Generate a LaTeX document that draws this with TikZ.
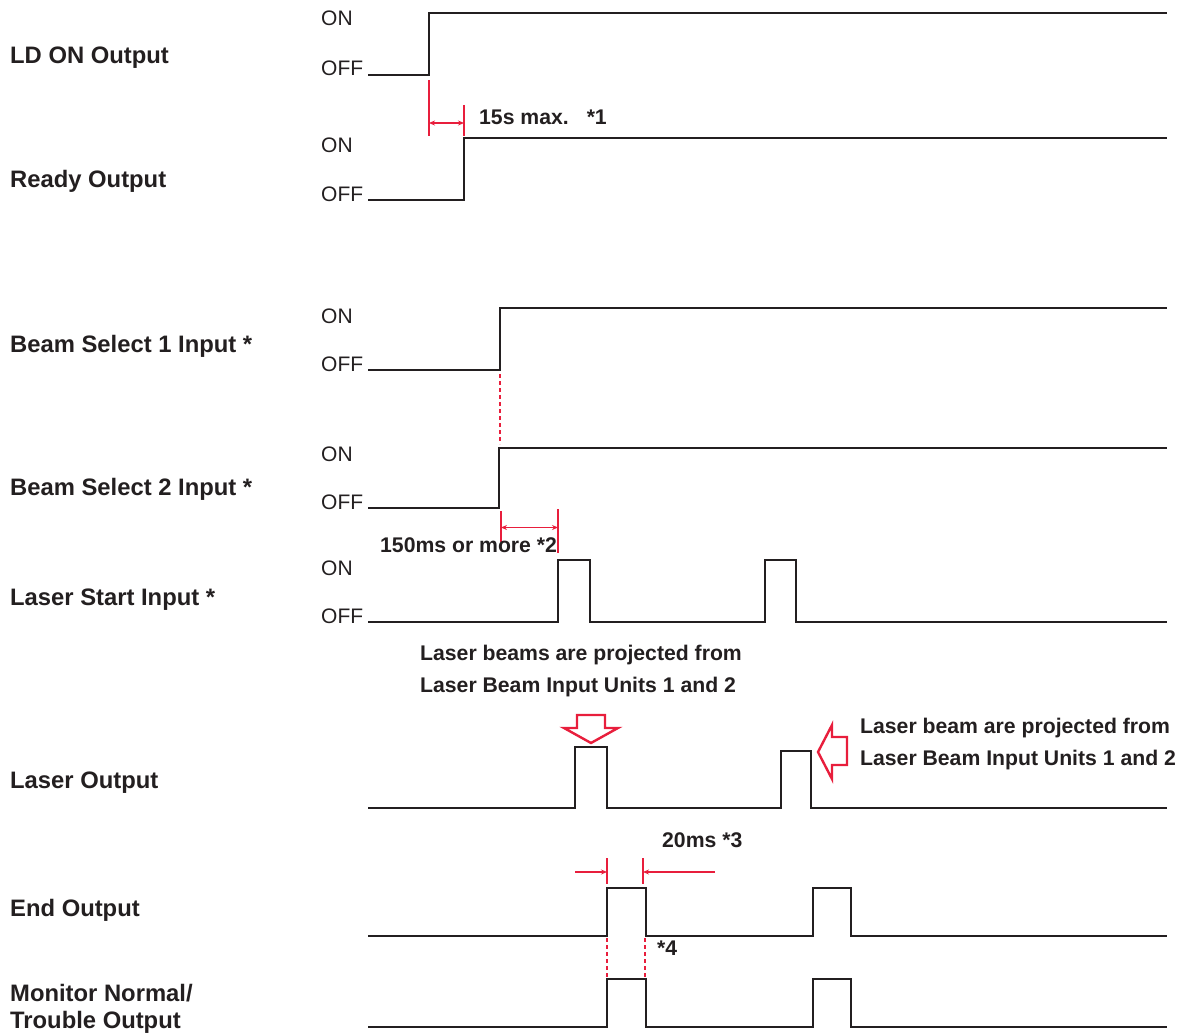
\documentclass[tikz,border=0pt]{standalone}
\usepackage{fontspec}
\setmainfont{Liberation Sans}
\usetikzlibrary{arrows.meta}
\definecolor{ink}{RGB}{35,31,32}
\definecolor{accent}{RGB}{232,30,60}
\begin{document}
\begin{tikzpicture}[x=1pt,y=-1pt,
  sig/.style={line width=2.8pt, draw=ink, line join=miter},
  dimln/.style={line width=1.4pt, draw=accent},
  dimarr/.style={line width=1.4pt, draw=accent, arrows={-Stealth[length=6pt,width=5pt]}},
  dimarrb/.style={line width=1.4pt, draw=accent, arrows={Stealth[length=6pt,width=5pt]-Stealth[length=6pt,width=5pt]}},
  dashln/.style={line width=1.4pt, draw=accent, dash pattern=on 4pt off 3pt},
  bigarr/.style={line width=2.4pt, draw=accent, line join=miter},
  lbl/.style={anchor=base west, inner sep=0pt, text=ink, font=\fontsize{23.8}{28}\selectfont\bfseries},
  lvl/.style={anchor=base west, inner sep=0pt, text=ink, font=\fontsize{21}{25}\selectfont},
  note/.style={anchor=base west, inner sep=0pt, text=ink, font=\fontsize{21.2}{25}\selectfont\bfseries}
]
\useasboundingbox (0,0) rectangle (1179,1033);

% Left labels
\node[lbl] (l1) at (10,64) {LD ON Output};
\node[lbl] (l2) at (10,187) {Ready Output};
\node[lbl] (l3) at (10,352) {Beam Select 1 Input *};
\node[lbl] (l4) at (10,495) {Beam Select 2 Input *};
\node[lbl] (l5) at (10,605) {Laser Start Input *};
\node[lbl] (l6) at (10,788) {Laser Output};
\node[lbl] (l7) at (10,916) {End Output};
\node[lbl] (l8a) at (10,1001) {Monitor Normal/};
\node[lbl] (l8b) at (10,1028) {Trouble Output};

% ON / OFF levels
\node[lvl] (on1) at (321,26) {ON};
\node[lvl] (off1) at (321,76) {OFF};
\node[lvl] (on2) at (321,153) {ON};
\node[lvl] (off2) at (321,201) {OFF};
\node[lvl] (on3) at (321,323) {ON};
\node[lvl] (off3) at (321,371) {OFF};
\node[lvl] (on4) at (321,461) {ON};
\node[lvl] (off4) at (321,509) {OFF};
\node[lvl] (on5) at (321,575) {ON};
\node[lvl] (off5) at (321,623) {OFF};

% Waveforms
\draw[sig] (368,75) -- (429,75) -- (429,13) -- (1167,13);
\draw[sig] (368,200) -- (464,200) -- (464,138) -- (1167,138);
\draw[sig] (368,370) -- (500,370) -- (500,308) -- (1167,308);
\draw[sig] (368,508) -- (499,508) -- (499,448) -- (1167,448);
\draw[sig] (368,622) -- (558,622) -- (558,560) -- (590,560) -- (590,622) -- (765,622) -- (765,560) -- (796,560) -- (796,622) -- (1167,622);
\draw[sig] (368,808) -- (575,808) -- (575,747) -- (607,747) -- (607,808) -- (781,808) -- (781,751) -- (811,751) -- (811,808) -- (1167,808);
\draw[sig] (368,936) -- (607,936) -- (607,888) -- (646,888) -- (646,936) -- (813,936) -- (813,888) -- (851,888) -- (851,936) -- (1167,936);
\draw[sig] (368,1027) -- (607,1027) -- (607,979) -- (646,979) -- (646,1027) -- (813,1027) -- (813,979) -- (851,979) -- (851,1027) -- (1167,1027);

% 15s max dimension
\coordinate (a1t) at (429,80); \coordinate (a1b) at (429,136);
\coordinate (a2t) at (464,105); \coordinate (a2b) at (464,136);
\draw[dimln] (a1t) -- (a1b);
\draw[dimln] (a2t) -- (a2b);
\coordinate (a1m) at (429,123); \coordinate (a2m) at (464,123);
\draw[dimarrb] (a1m) -- (a2m);
\node[note] (t15) at (479,124.5) {15s max.\hspace{18pt}*1};

% Beam select dashed
\coordinate (bs1) at (500,374); \coordinate (bs2) at (500,444);
\draw[dashln] (bs1) -- (bs2);

% 150ms dimension
\coordinate (b1t) at (501,511); \coordinate (b1b) at (501,542);
\coordinate (b2t) at (558,509); \coordinate (b2b) at (558,553);
\draw[dimln] (b1t) -- (b1b);
\draw[dimln] (b2t) -- (b2b);
\coordinate (b1m) at (501,527.5); \coordinate (b2m) at (558,527.5);
\draw[dimarrb] (b1m) -- (b2m);
\node[note] (t150) at (380,552.5) {150ms or more *2};

% Notes
\node[note] (n1a) at (420,660.5) {Laser beams are projected from};
\node[note] (n1b) at (420,692.5) {Laser Beam Input Units 1 and 2};
\node[note] (n2a) at (860,733.5) {Laser beam are projected from};
\node[note] (n2b) at (860,765.5) {Laser Beam Input Units 1 and 2};

% Big outlined arrows
\draw[bigarr] (577,715) -- (605,715) -- (605,728) -- (618,728) -- (591,743) -- (564,728) -- (577,728) -- cycle;
\draw[bigarr] (818,752) -- (832,725) -- (832,737) -- (847,737) -- (847,765) -- (832,765) -- (832,779) -- cycle;

% 20ms dimension
\coordinate (c1t) at (607,858); \coordinate (c1b) at (607,884);
\coordinate (c2t) at (643,858); \coordinate (c2b) at (643,884);
\draw[dimln] (c1t) -- (c1b);
\draw[dimln] (c2t) -- (c2b);
\coordinate (c1o) at (575,872); \coordinate (c1m) at (607,872);
\coordinate (c2o) at (715,872); \coordinate (c2m) at (643,872);
\draw[dimarr] (c1o) -- (c1m);
\draw[dimarr] (c2o) -- (c2m);
\node[note] (t20) at (662,847.5) {20ms *3};
\node[note] (t4) at (657,955.5) {*4};

% End / Monitor dashed
\coordinate (d1t) at (607,938); \coordinate (d1b) at (607,977);
\coordinate (d2t) at (645,938); \coordinate (d2b) at (645,977);
\draw[dashln] (d1t) -- (d1b);
\draw[dashln] (d2t) -- (d2b);
\end{tikzpicture}
\end{document}
